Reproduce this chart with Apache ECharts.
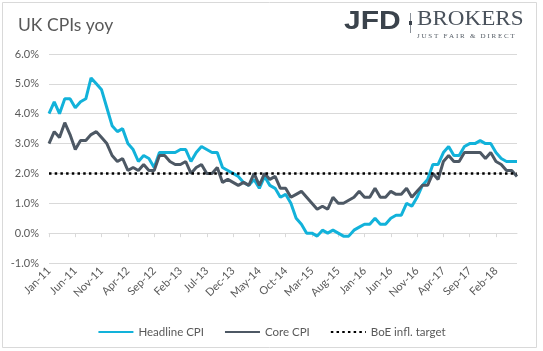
<!DOCTYPE html>
<html>
<head>
<meta charset="utf-8">
<script src="https://cdn.jsdelivr.net/npm/echarts@6/dist/echarts.min.js"></script>
<style>
  html, body { margin: 0; padding: 0; background: #fff; }
  #chart { width: 543px; height: 351px; }
</style>
</head>
<body>
<div id="chart"></div>
<script>
// monthly, Jan-11 .. Jun-18
var monthNames = ['Jan', 'Feb', 'Mar', 'Apr', 'May', 'Jun', 'Jul', 'Aug', 'Sep', 'Oct', 'Nov', 'Dec']
var years = ['11', '12', '13', '14', '15', '16', '17', '18']
var categories = []
years.forEach(function (y) {
  monthNames.forEach(function (m) {
    categories.push(m + '-' + y)
  })
})
categories = categories.slice(0, 90)

var headlineCPI = [
  4.0, 4.4, 4.0, 4.5, 4.5, 4.2, 4.4, 4.5, 5.2, 5.0, 4.8, 4.2,
  3.6, 3.4, 3.5, 3.0, 2.8, 2.4, 2.6, 2.5, 2.2, 2.7, 2.7, 2.7,
  2.7, 2.8, 2.8, 2.4, 2.7, 2.9, 2.8, 2.7, 2.7, 2.2, 2.1, 2.0,
  1.9, 1.7, 1.6, 1.8, 1.5, 1.9, 1.6, 1.5, 1.2, 1.3, 1.0, 0.5,
  0.3, 0.0, 0.0, -0.1, 0.1, 0.0, 0.1, 0.0, -0.1, -0.1, 0.1, 0.2,
  0.3, 0.3, 0.5, 0.3, 0.3, 0.5, 0.6, 0.6, 1.0, 0.9, 1.2, 1.6,
  1.8, 2.3, 2.3, 2.7, 2.9, 2.6, 2.6, 2.9, 3.0, 3.0, 3.1, 3.0,
  3.0, 2.7, 2.5, 2.4, 2.4, 2.4
]
var coreCPI = [
  3.0, 3.4, 3.2, 3.7, 3.3, 2.8, 3.1, 3.1, 3.3, 3.4, 3.2, 3.0,
  2.6, 2.4, 2.5, 2.1, 2.2, 2.1, 2.3, 2.1, 2.1, 2.6, 2.6, 2.4,
  2.3, 2.3, 2.4, 2.0, 2.2, 2.3, 2.0, 2.0, 2.2, 1.7, 1.8, 1.7,
  1.6, 1.7, 1.6, 2.0, 1.6, 2.0, 1.8, 1.9, 1.5, 1.5, 1.2, 1.3,
  1.4, 1.2, 1.0, 0.8, 0.9, 0.8, 1.2, 1.0, 1.0, 1.1, 1.2, 1.4,
  1.2, 1.2, 1.5, 1.2, 1.2, 1.4, 1.3, 1.3, 1.5, 1.2, 1.4, 1.6,
  1.6, 2.0, 1.8, 2.4, 2.6, 2.4, 2.4, 2.7, 2.7, 2.7, 2.7, 2.5,
  2.7, 2.4, 2.3, 2.1, 2.1, 1.9
]
var boeTarget = 2.0

var CYAN = '#12b2da'
var DARK = '#4d5864'
var TEXT = '#595959'
var GRID = '#d9d9d9'
var FONT = 'Lato, "Open Sans", sans-serif'
var DOTS = [2.5, 3.2]

var chart = echarts.init(document.getElementById('chart'), null, { renderer: 'canvas' })

chart.setOption({
  backgroundColor: '#fff',
  animation: false,
  textStyle: { fontFamily: FONT },
  title: {
    text: 'UK CPIs yoy',
    left: 13,
    top: 11,
    textStyle: { fontFamily: FONT, fontSize: 17.5, fontWeight: 'normal', color: TEXT }
  },
  graphic: [
    {
      type: 'rect',
      shape: { x: 2.5, y: 2.5, width: 534, height: 345 },
      style: { fill: 'none', stroke: GRID, lineWidth: 1 },
      silent: true
    },
    // logo
    {
      type: 'text',
      x: 344,
      y: 10,
      scaleX: 1.2,
      style: {
        text: 'JFD',
        font: 'bold 25px "Liberation Sans", Arial, sans-serif',
        fill: '#3b434c'
      }
    },
    {
      type: 'rect',
      shape: { x: 410, y: 13, width: 1, height: 20 },
      style: { fill: '#8a9098' }
    },
    {
      type: 'rect',
      shape: { x: 409, y: 21, width: 3, height: 4 },
      style: { fill: '#3a424b' }
    },
    {
      type: 'text',
      x: 417,
      y: 9,
      scaleX: 1.1,
      style: {
        text: 'BROKERS',
        font: '21px "Liberation Serif", "DejaVu Serif", serif',
        fill: '#4a525c'
      }
    },
    {
      type: 'text',
      x: 417,
      y: 33,
      style: {
        text: 'J U S T   F A I R   &   D I R E C T',
        font: '7px "Liberation Serif", "DejaVu Serif", serif',
        fill: '#555d66'
      }
    }
  ],
  legend: {
    bottom: 8,
    left: 'center',
    itemWidth: 35,
    itemHeight: 10,
    itemGap: 20,
    itemStyle: { color: 'rgba(0,0,0,0)', borderWidth: 0, opacity: 0 },
    textStyle: { color: TEXT, fontSize: 11.5, fontFamily: FONT },
    data: ['Headline CPI', 'Core CPI', 'BoE infl. target']
  },
  grid: {
    left: 49,
    right: 26,
    top: 54,
    bottom: 88,
    containLabel: false
  },
  xAxis: [
    {
      type: 'category',
      data: categories,
      boundaryGap: false,
      axisLine: { show: true, onZero: true, lineStyle: { color: GRID, width: 1 } },
      axisTick: { show: true, interval: 4, length: 4, lineStyle: { color: GRID } },
      axisLabel: { show: false },
      splitLine: { show: false }
    },
    {
      type: 'category',
      data: categories,
      boundaryGap: false,
      position: 'bottom',
      axisLine: { show: false, onZero: false },
      axisTick: { show: false },
      axisLabel: {
        interval: 4,
        rotate: 45,
        margin: 6,
        color: TEXT,
        fontSize: 11,
        fontFamily: FONT
      },
      splitLine: { show: false }
    }
  ],
  yAxis: {
    type: 'value',
    min: -1,
    max: 6,
    interval: 1,
    axisLine: { show: false },
    axisTick: { show: false },
    axisLabel: {
      color: TEXT,
      fontSize: 11,
      fontFamily: FONT,
      margin: 10,
      formatter: function (v) { return v.toFixed(1) + '%' }
    },
    splitLine: { lineStyle: { color: GRID, width: 1 } }
  },
  series: [
    {
      name: 'Headline CPI',
      type: 'line',
      data: headlineCPI,
      symbol: 'none',
      color: CYAN,
      lineStyle: { color: CYAN, width: 3 },
      z: 3
    },
    {
      name: 'Core CPI',
      type: 'line',
      data: coreCPI,
      symbol: 'none',
      color: DARK,
      lineStyle: { color: DARK, width: 3 },
      z: 4
    },
    {
      name: 'BoE infl. target',
      type: 'line',
      data: [],
      symbol: 'none',
      color: '#000',
      lineStyle: { color: '#000', width: 2.5, type: DOTS },
      z: 5,
      markLine: {
        silent: true,
        symbol: 'none',
        label: { show: false },
        lineStyle: { color: '#000', width: 2.5, type: DOTS },
        data: [{ yAxis: boeTarget }]
      }
    }
  ]
})
</script>
</body>
</html>
